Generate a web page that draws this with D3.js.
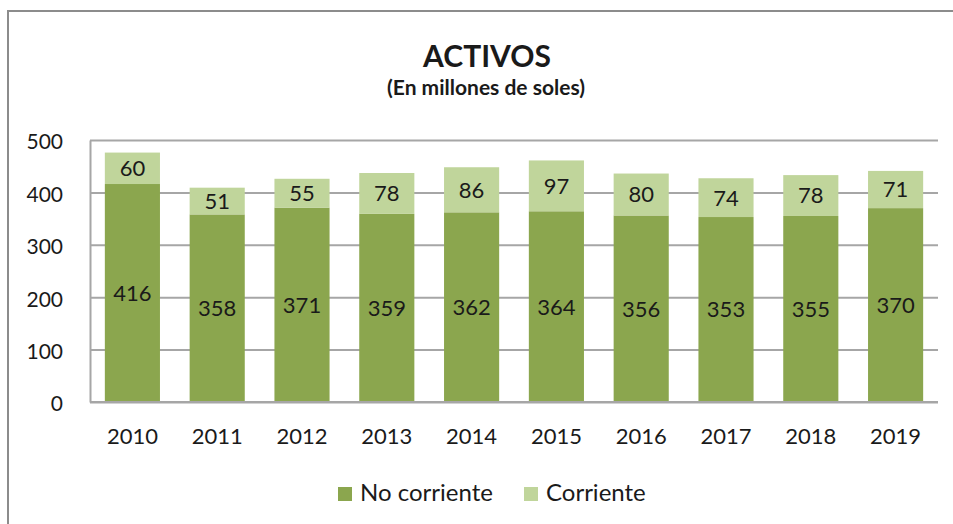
<!DOCTYPE html>
<html>
<head>
<meta charset="utf-8">
<script src="https://cdn.jsdelivr.net/npm/d3@7"></script>
<style>
  body { margin: 0; background: #fff; }
  text { font-family: Lato, "Open Sans", sans-serif; fill: #1a1a1a; }
</style>
</head>
<body>
<svg></svg>
<script>
const width = 953;
const height = 524;

// DATA
const years = ['2010', '2011', '2012', '2013', '2014', '2015', '2016', '2017', '2018', '2019'];
const noCorriente = [416, 358, 371, 359, 362, 364, 356, 353, 355, 370];
const corriente = [60, 51, 55, 78, 86, 97, 80, 74, 78, 71];
const yTicks = [0, 100, 200, 300, 400, 500];
const seriesNames = ['No corriente', 'Corriente'];
const colors = ['#8BA64E', '#C0D59B'];

const margin = {top: 140, right: 15, bottom: 122, left: 90};

const rows = years.map((y, i) => ({year: y, 'No corriente': noCorriente[i], 'Corriente': corriente[i]}));
const stacked = d3.stack().keys(seriesNames)(rows);

// SCALES
const xScale = d3.scaleBand()
                 .domain(years)
                 .range([margin.left, width - margin.right])
                 .paddingInner(0.35)
                 .paddingOuter(0.175);
const yScale = d3.scaleLinear()
                 .domain([0, 500])
                 .range([height - margin.bottom, margin.top]);

const svg = d3.select('svg')
              .attr('width', width)
              .attr('height', height);

// OUTER FRAME (top and left only, the picture is cropped)
svg.append('path')
   .attr('d', `M8,${height} V11 H${width}`)
   .attr('fill', 'none')
   .attr('stroke', '#8c8c8c')
   .attr('stroke-width', 2);

// GRID
const yAxis = d3.axisLeft(yScale)
                .tickValues(yTicks)
                .tickSize(-(width - margin.left - margin.right))
                .tickSizeOuter(0)
                .tickPadding(27);

const gy = svg.append('g')
   .attr('transform', `translate(${margin.left}, 0)`)
   .call(yAxis);
gy.select('.domain').attr('stroke', '#a6a6a6').attr('stroke-width', 2);
gy.selectAll('.tick line').attr('stroke', '#a6a6a6').attr('stroke-width', 2);
gy.selectAll('.tick text')
  .style('font-size', '21px')
  .attr('fill', '#1a1a1a')
  .attr('dy', '0.42em');

// BARS
svg.selectAll('g.series')
   .data(stacked)
   .enter()
   .append('g')
     .attr('class', 'series')
     .attr('fill', (d, i) => colors[i])
   .selectAll('rect')
   .data(d => d)
   .enter()
   .append('rect')
     .attr('x', d => xScale(d.data.year))
     .attr('y', d => yScale(d[1]))
     .attr('width', xScale.bandwidth())
     .attr('height', d => yScale(d[0]) - yScale(d[1]));

// BASELINE
svg.append('line')
   .attr('x1', margin.left)
   .attr('x2', width - margin.right)
   .attr('y1', yScale(0))
   .attr('y2', yScale(0))
   .attr('stroke', '#a6a6a6')
   .attr('stroke-width', 2);

// VALUE LABELS
svg.selectAll('g.labels')
   .data(stacked)
   .enter()
   .append('g')
     .attr('class', 'labels')
   .selectAll('text')
   .data(d => d)
   .enter()
   .append('text')
     .attr('x', d => xScale(d.data.year) + xScale.bandwidth() / 2)
     .attr('y', d => yScale((d[0] + d[1]) / 2))
     .attr('dy', '0.36em')
     .style('text-anchor', 'middle')
     .style('font-size', '22px')
     .text(d => d[1] - d[0]);

// X AXIS LABELS
const xAxis = d3.axisBottom(xScale).tickSize(0).tickPadding(26);
const gx = svg.append('g')
   .attr('transform', `translate(0, ${yScale(0)})`)
   .call(xAxis);
gx.select('.domain').remove();
gx.selectAll('.tick text')
  .style('font-size', '22px')
  .attr('fill', '#1a1a1a');

// TITLE
svg.append('text')
   .attr('x', 487)
   .attr('y', 67)
   .style('text-anchor', 'middle')
   .style('font-size', '30px')
   .style('font-weight', 'bold')
   .text('ACTIVOS');

svg.append('text')
   .attr('x', 486)
   .attr('y', 95)
   .style('text-anchor', 'middle')
   .style('font-size', '21px')
   .style('font-weight', 'bold')
   .text('(En millones de soles)');

// LEGEND
const legendX = [338, 524];
const legend = svg.selectAll('g.legend')
   .data(seriesNames)
   .enter()
   .append('g')
     .attr('class', 'legend')
     .attr('transform', (d, i) => `translate(${legendX[i]}, 487)`);
legend.append('rect')
   .attr('width', 14)
   .attr('height', 14)
   .attr('fill', (d, i) => colors[i]);
legend.append('text')
   .attr('x', 22)
   .attr('y', 14)
   .style('font-size', '24px')
   .text(d => d);
</script>
</body>
</html>
